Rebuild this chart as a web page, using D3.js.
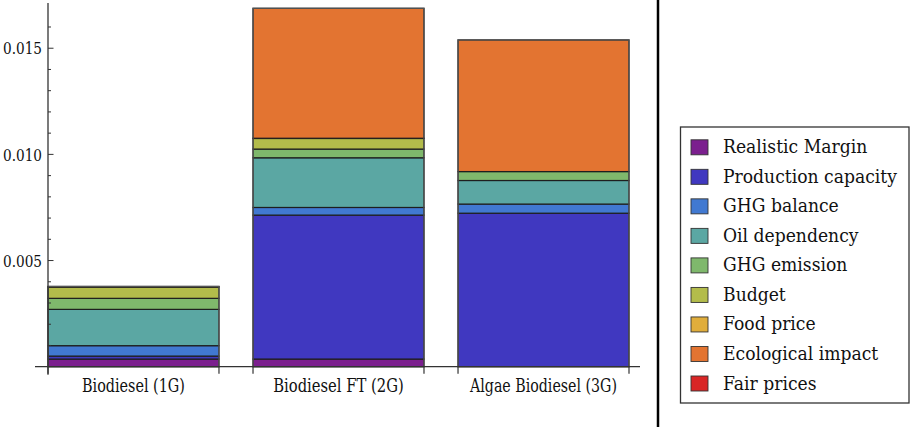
<!DOCTYPE html>
<html>
<head>
<meta charset="utf-8">
<script src="https://cdn.jsdelivr.net/npm/d3@7"></script>
<style>
  html, body { margin: 0; padding: 0; background: #fff; }
  svg { display: block; }
</style>
</head>
<body>
<script>
// ---- data ----
const categories = ["Biodiesel (1G)", "Biodiesel FT (2G)", "Algae Biodiesel (3G)"];
const seriesNames = ["Realistic Margin", "Production capacity", "GHG balance", "Oil dependency",
                     "GHG emission", "Budget", "Food price", "Ecological impact", "Fair prices"];
const realisticMargin    = [0.00036, 0.00036, 0.0];
const productionCapacity = [0.00014, 0.00678, 0.00723];
const ghgBalance         = [0.00049, 0.00036, 0.00043];
const oilDependency      = [0.00171, 0.00234, 0.00111];
const ghgEmission        = [0.00052, 0.00041, 0.00042];
const budget             = [0.00053, 0.00050, 0.0];
const foodPrice          = [0.00003, 0.00001, 0.0];
const ecologicalImpact   = [0.0, 0.00612, 0.00620];
const fairPrices         = [0.0, 0.0, 0.0];
const yTickValues = [0.005, 0.010, 0.015];
const yTickLabels = ["0.005", "0.010", "0.015"];
const colors = ["#7b1f8e", "#4038c0", "#4179d1", "#5ba7a3", "#7fb86c", "#b3bc4b", "#e0ad3b", "#e37431", "#d92626"];

const seriesValues = [realisticMargin, productionCapacity, ghgBalance, oilDependency,
                      ghgEmission, budget, foodPrice, ecologicalImpact, fairPrices];

// ---- layout ----
const W = 912, H = 427;
const FONT = "'DejaVu Serif', 'Liberation Serif', serif";
const svg = d3.select("body").append("svg").attr("width", W).attr("height", H)
  .style("font-family", FONT);

const x = d3.scaleBand().domain(categories).range([48, 629]).paddingInner(0.166).paddingOuter(0);
const y = d3.scaleLinear().domain([0, 0.01713]).range([366.7, 3]);

const table = categories.map((c, i) => {
  const row = { cat: c };
  seriesNames.forEach((s, j) => row[s] = seriesValues[j][i]);
  return row;
});
const stacked = d3.stack().keys(seriesNames)(table);

const g = svg.append("g");
stacked.forEach((layer, j) => {
  g.selectAll(null).data(layer.filter(d => d[1] - d[0] > 0)).enter().append("rect")
    .attr("x", d => x(d.data.cat))
    .attr("width", x.bandwidth())
    .attr("y", d => y(d[1]))
    .attr("height", d => y(d[0]) - y(d[1]))
    .attr("fill", colors[j])
    .attr("stroke", "#1e1e1e")
    .attr("stroke-width", 1.2);
});
g.selectAll(null).data(table).enter().append("rect")
  .attr("x", d => x(d.cat))
  .attr("width", x.bandwidth())
  .attr("y", d => y(d3.sum(seriesNames, s => d[s])))
  .attr("height", d => y(0) - y(d3.sum(seriesNames, s => d[s])))
  .attr("fill", "none")
  .attr("stroke", "#555")
  .attr("stroke-width", 1.2);

// y axis
const axisColor = "#333";
svg.append("line").attr("x1", 48).attr("x2", 48).attr("y1", y(0.01713)).attr("y2", y(0) + 8)
  .attr("stroke", axisColor).attr("stroke-width", 1.3);
const minorTicks = d3.range(1, 17).map(k => k * 0.001).filter(v => !yTickValues.some(t => Math.abs(t - v) < 1e-9));
svg.selectAll(null).data(minorTicks).enter().append("line")
  .attr("x1", 48).attr("x2", 51).attr("y1", d => y(d)).attr("y2", d => y(d))
  .attr("stroke", axisColor).attr("stroke-width", 1);
svg.selectAll(null).data(yTickValues).enter().append("line")
  .attr("x1", 48).attr("x2", 53.5).attr("y1", d => y(d)).attr("y2", d => y(d))
  .attr("stroke", axisColor).attr("stroke-width", 1);

// helper: place text condensed horizontally to a target width using a transform
function fitText(sel, targetWidth, anchorX, baseY, anchor) {
  sel.each(function (d, i) {
    const node = this;
    const w = node.getComputedTextLength();
    const tw = typeof targetWidth === "function" ? targetWidth(d, i, w) : targetWidth;
    const kx = tw / w;
    const ax = typeof anchorX === "function" ? anchorX(d, i) : anchorX;
    const by = typeof baseY === "function" ? baseY(d, i) : baseY;
    let left = ax;
    if (anchor === "end") left = ax - tw;
    if (anchor === "middle") left = ax - tw / 2;
    d3.select(node).attr("x", 0).attr("y", 0).attr("text-anchor", "start")
      .attr("transform", `translate(${left},${by}) scale(${kx},1)`);
  });
}

const yLabels = svg.selectAll(null).data(yTickValues).enter().append("text")
  .attr("dy", "0.36em").attr("font-size", 17).attr("fill", "#111")
  .text((d, i) => yTickLabels[i]);
fitText(yLabels, 39, 42, d => y(d), "end");

// x axis
svg.append("line").attr("x1", 35).attr("x2", 640).attr("y1", y(0)).attr("y2", y(0))
  .attr("stroke", axisColor).attr("stroke-width", 1.3);
const edges = [];
categories.forEach(c => { edges.push(x(c)); edges.push(x(c) + x.bandwidth()); });
svg.selectAll(null).data(edges).enter().append("line")
  .attr("x1", d => d).attr("x2", d => d).attr("y1", y(0)).attr("y2", y(0) + 7)
  .attr("stroke", axisColor).attr("stroke-width", 1.2);
const labelWidths = [103, 130.6, 147];
const xLabels = svg.selectAll(null).data(categories).enter().append("text")
  .attr("font-size", 19).attr("fill", "#111")
  .text(d => d);
fitText(xLabels, (d, i) => labelWidths[i], d => x(d) + x.bandwidth() / 2, 391.5, "middle");

// divider
svg.append("line").attr("x1", 658).attr("x2", 658).attr("y1", 0).attr("y2", H)
  .attr("stroke", "#000").attr("stroke-width", 2.5);

// legend
const lg = svg.append("g");
lg.append("rect").attr("x", 680.5).attr("y", 127).attr("width", 228.5).attr("height", 276)
  .attr("fill", "#fff").attr("stroke", "#333").attr("stroke-width", 1.3);
const rowY = d3.scaleLinear().domain([0, 8]).range([153.3, 389.5]);
const items = lg.selectAll(null).data(seriesNames).enter().append("g");
items.append("rect")
  .attr("x", 691).attr("width", 17).attr("height", 15)
  .attr("y", (d, i) => rowY(i) - 13.5)
  .attr("fill", (d, i) => colors[i])
  .attr("stroke", "#333").attr("stroke-width", 0.9);
const legendTexts = items.append("text")
  .attr("font-size", 19).attr("fill", "#111")
  .text(d => d);
const natural = legendTexts.nodes().map(n => n.getComputedTextLength());
const k = 174 / d3.max(natural);
fitText(legendTexts, (d, i, w) => w * k, 723, (d, i) => rowY(i), "start");
</script>
</body>
</html>
